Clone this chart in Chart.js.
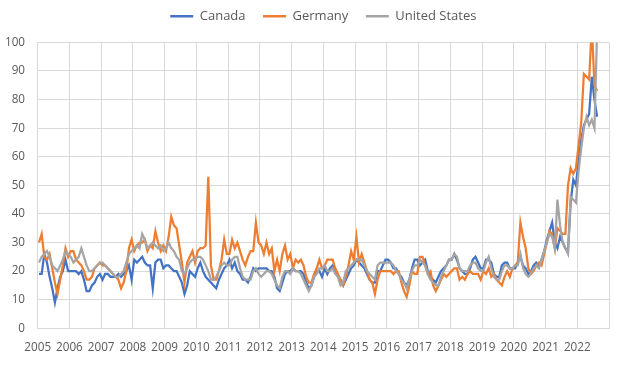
<!DOCTYPE html>
<html>
<head>
<meta charset="utf-8">
<script src="https://cdn.jsdelivr.net/npm/chart.js@4.4.0/dist/chart.umd.min.js"></script>
<style>
    html, body { margin: 0; padding: 0; background: #fff; }
    #wrap { width: 621px; height: 370px; }
</style>
</head>
<body>
<div id="wrap"><canvas id="priceChart"></canvas></div>
<script>
// Etiquetas del eje X (una por año, en el inicio de cada año)
const years = ['2005', '2006', '2007', '2008', '2009', '2010', '2011', '2012', '2013',
               '2014', '2015', '2016', '2017', '2018', '2019', '2020', '2021', '2022'];

// Series mensuales, ene 2005 - ago 2022
const canada = [
    19, 19, 26, 23, 18, 14, 9, 14, 18, 20, 24, 20,
    20, 20, 20, 19, 20, 17, 13, 13, 15, 16, 18, 19,
    17, 19, 19, 18, 18, 18, 19, 18, 19, 20, 22, 17,
    24, 23, 24, 25, 23, 22, 22, 14, 23, 24, 24, 21,
    22, 22, 21, 20, 20, 18, 16, 12, 15, 20, 19, 18,
    21, 23, 20, 18, 17, 16, 15, 14, 17, 19, 21, 22,
    24, 21, 23, 20, 19, 17, 17, 16, 18, 21, 20, 21,
    21, 21, 21, 20, 20, 18, 14, 13, 16, 19, 20, 20,
    21, 20, 20, 20, 19, 16, 14, 15, 18, 20, 20, 18,
    21, 19, 21, 22, 20, 18, 17, 15, 17, 19, 21, 22,
    24, 23, 22, 21, 19, 17, 16, 16, 20, 20, 22, 24,
    24, 23, 21, 21, 19, 18, 16, 15, 17, 21, 24, 24,
    22, 23, 24, 20, 18, 17, 16, 18, 20, 21, 22, 24,
    24, 26, 24, 21, 20, 19, 19, 21, 24, 25, 23, 21,
    21, 24, 24, 23, 19, 18, 18, 22, 23, 23, 21, 21,
    21, 23, 25, 22, 21, 19, 20, 22, 23, 22, 24, 27,
    31, 34, 37, 30, 28, 32, 30, 28, 27, 44, 52, 50,
    59, 66, 71, 73, 75, 88, 80, 74
];
const germany = [
    30, 33, 25, 24, 26, 21, 16, 12, 17, 22, 28, 25,
    27, 27, 24, 23, 22, 20, 17, 17, 18, 21, 22, 23,
    22, 22, 21, 20, 19, 18, 17, 14, 16, 20, 28, 31,
    27, 29, 30, 30, 31, 27, 29, 28, 34, 30, 27, 29,
    27, 32, 39, 36, 35, 29, 23, 16, 23, 25, 27, 23,
    27, 28, 28, 29, 53, 22, 17, 17, 20, 24, 31, 26,
    26, 31, 28, 30, 27, 24, 22, 25, 27, 27, 37, 30,
    29, 26, 30, 26, 28, 20, 24, 20, 26, 29, 24, 26,
    21, 24, 23, 24, 22, 18, 16, 16, 19, 21, 24, 21,
    22, 24, 24, 24, 21, 19, 17, 15, 18, 22, 27, 24,
    32, 23, 26, 23, 20, 17, 16, 12, 17, 20, 20, 20,
    20, 20, 19, 20, 20, 16, 13, 11, 15, 20, 19, 19,
    25, 25, 22, 19, 20, 15, 13, 15, 17, 19, 18, 19,
    20, 21, 21, 17, 18, 17, 19, 20, 19, 19, 19, 17,
    20, 19, 21, 18, 19, 17, 16, 15, 18, 20, 18, 21,
    22, 23, 37, 32, 28, 21, 19, 20, 22, 23, 22, 26,
    30, 34, 33, 28, 35, 34, 33, 33, 50, 56, 54, 56,
    64, 72, 89, 88, 87, 106, 85, 83
];
const unitedStates = [
    23, 25, 26, 27, 25, 22, 21, 20, 22, 24, 27, 26,
    25, 23, 24, 25, 28, 25, 22, 20, 20, 21, 22, 23,
    23, 22, 21, 20, 19, 18, 18, 19, 20, 23, 26, 27,
    28, 29, 28, 33, 31, 28, 29, 30, 29, 28, 29, 27,
    28, 30, 28, 27, 25, 24, 20, 19, 21, 23, 24, 24,
    25, 25, 24, 22, 20, 17, 17, 18, 20, 22, 23, 22,
    22, 24, 25, 25, 21, 18, 17, 17, 17, 20, 21, 19,
    18, 19, 20, 20, 19, 17, 15, 14, 18, 20, 20, 19,
    21, 20, 20, 19, 17, 15, 13, 15, 18, 19, 21, 21,
    22, 20, 20, 21, 19, 18, 15, 16, 20, 21, 22, 23,
    24, 24, 24, 22, 20, 19, 18, 17, 22, 23, 23, 23,
    23, 23, 22, 20, 19, 17, 16, 14, 17, 20, 22, 22,
    24, 23, 22, 19, 17, 16, 15, 15, 18, 20, 22, 24,
    24, 26, 25, 21, 20, 20, 20, 22, 23, 23, 21, 20,
    20, 23, 25, 21, 18, 17, 17, 20, 22, 22, 21, 21,
    22, 22, 26, 21, 19, 18, 19, 21, 22, 21, 24, 27,
    30, 33, 32, 28, 45, 36, 30, 28, 26, 46, 45, 44,
    55, 63, 70, 74, 71, 73, 70, 104
];

const TEXT  = '#595959';
const GRID  = '#D9D9D9';
const FONT  = "'Open Sans', sans-serif";

// mes i -> centro del mes en el eje lineal
const toPoints = arr => arr.map((v, i) => ({ x: i + 0.5, y: v }));

function makeSet(label, data, color, order) {
    return {
        label,
        data: toPoints(data),
        borderColor: color,
        backgroundColor: color,
        borderWidth: 2.25,
        pointRadius: 0,
        tension: 0,
        order
    };
}

// Sube la leyenda sin mover el área del gráfico
const legendNudge = {
    id: 'legendNudge',
    afterLayout(chart) {
        const lg = chart.legend;
        if (!lg) return;
        const dy = 9.7 - (lg.top + lg.options.labels.padding);
        lg.top += dy;
        lg.bottom += dy;
    }
};

new Chart(document.getElementById('priceChart'), {
    type: 'line',
    data: {
        datasets: [
            makeSet('Canada', canada, '#4472C4', 2),
            makeSet('Germany', germany, '#ED7D31', 1),
            makeSet('United States', unitedStates, '#A5A5A5', 0)
        ]
    },
    options: {
        responsive: true,
        maintainAspectRatio: false,
        animation: false,
        layout: { padding: { top: 1.9, right: 6, left: 0, bottom: 0 } },
        plugins: {
            tooltip: { enabled: false },
            legend: {
                position: 'top',
                fullSize: false,
                labels: {
                    color: TEXT,
                    font: { family: FONT, size: 13 },
                    boxWidth: 23,
                    boxHeight: 2.5,
                    padding: 17.5,
                    sort: (a, b) => a.datasetIndex - b.datasetIndex,
                    generateLabels: chart => {
                        const items = Chart.defaults.plugins.legend.labels.generateLabels(chart);
                        items.forEach(it => { it.lineWidth = 0; it.fillStyle = it.strokeStyle; });
                        return items;
                    }
                }
            }
        },
        scales: {
            x: {
                type: 'linear',
                min: 0,
                max: 216,
                afterBuildTicks: axis => {
                    axis.ticks = years.map((y, i) => ({ value: i * 12 })).concat([{ value: 216 }]);
                },
                ticks: {
                    autoSkip: false,
                    maxRotation: 0,
                    padding: 12,
                    color: TEXT,
                    font: { family: FONT, size: 11.7 },
                    callback: v => years[v / 12] || ''
                },
                grid: { color: GRID, drawTicks: false, lineWidth: 1 },
                border: { color: GRID },
                afterFit: axis => { axis.height = 41.7; }
            },
            y: {
                min: 0,
                max: 100,
                ticks: {
                    stepSize: 10,
                    padding: 12.7,
                    color: TEXT,
                    font: { family: FONT, size: 11.7 }
                },
                grid: { color: GRID, drawTicks: false, lineWidth: 1 },
                border: { color: GRID },
                afterFit: axis => { axis.width = 37.7; }
            }
        }
    },
    plugins: [legendNudge]
});
</script>
</body>
</html>
